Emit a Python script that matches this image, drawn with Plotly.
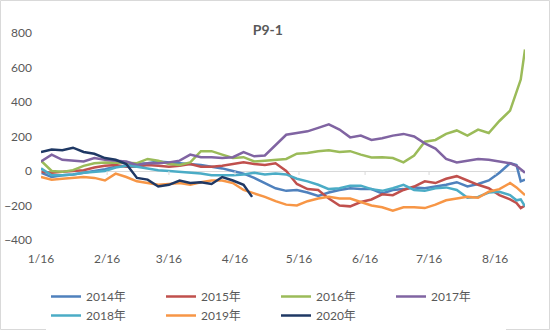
import pandas as pd
import plotly.graph_objects as go

# Day offsets from 16 Jan (shared sampling grid)
days = list(range(0, 221, 5)) + [223, 225, 227]
days_2020 = list(range(0, 96, 5)) + [99]

s2014 = [-10, -35, -25, -20, -10, 0, 10, 25, 30, 40, 45, 55, 50, 45, 40, 35, 25, 15, 0, -15,
         -40, -70, -100, -115, -110, -125, -145, -125, -110, -100, -105, -105, -130, -110, -105,
         -95, -100, -90, -80, -65, -90, -75, -55, -10, 45, 35, -60, -50]
s2015 = [-5, -10, -5, 0, 5, 20, 30, 35, 25, 25, 35, 30, 25, 30, 40, 25, 25, 30, 40, 50,
         40, 35, 45, 0, -75, -105, -110, -160, -200, -205, -180, -165, -135, -140, -110,
         -90, -60, -70, -45, -30, -55, -80, -100, -140, -165, -185, -215, -200]
s2016 = [60, 0, -5, 5, 30, 45, 50, 50, 48, 45, 70, 60, 40, 35, 50, 115, 115, 95, 75, 80,
         55, 60, 65, 70, 100, 105, 115, 120, 110, 115, 95, 78, 80, 75, 50,
         90, 170, 180, 215, 235, 205, 240, 220, 290, 350, 460, 530, 705]
s2017 = [55, 95, 65, 60, 55, 75, 65, 60, 55, 35, 45, 45, 50, 60, 95, 80, 80, 75, 80, 110,
         85, 90, 150, 210, 220, 230, 250, 270, 240, 195, 205, 180, 190, 205, 215,
         200, 160, 130, 70, 50, 60, 70, 65, 55, 45, 30, 10, -10]
s2018 = [15, -25, -25, -20, -10, -5, 0, 20, 30, 25, 15, 5, 0, -5, -10, -15, -25, -25, -25, -20,
         -10, -20, -15, -20, -45, -60, -80, -105, -100, -85, -85, -105, -115, -100, -80,
         -110, -115, -100, -95, -110, -155, -150, -125, -120, -140, -170, -165, -205]
s2019 = [-35, -50, -45, -40, -35, -40, -55, -15, -35, -60, -70, -80, -75, -70, -80, -65, -55, -55, -70, -110,
         -130, -150, -175, -195, -200, -175, -160, -150, -160, -160, -180, -200, -210, -230, -210,
         -210, -215, -195, -170, -160, -150, -155, -120, -105, -70, -95, -120, -140]
s2020 = [110, 125, 120, 135, 110, 100, 75, 65, 40, -40, -50, -90, -80, -55, -70, -65, -75, -35, -55, -80, -150]

names = ["2014年", "2015年", "2016年", "2017年", "2018年", "2019年", "2020年"]
colors = ["#4F81BD", "#C0504D", "#9BBB59", "#8064A2", "#4BACC6", "#F79646", "#1F3864"]

tick_dates = ["2020-01-16", "2020-02-16", "2020-03-16", "2020-04-16",
              "2020-05-16", "2020-06-16", "2020-07-16", "2020-08-16"]
tick_text = ["1/16", "2/16", "3/16", "4/16", "5/16", "6/16", "7/16", "8/16"]
y_ticks = [-400, -200, 0, 200, 400, 600, 800]

base = pd.Timestamp("2020-01-16")


def to_dates(offsets):
    return [base + pd.Timedelta(days=d) for d in offsets]


series = [s2014, s2015, s2016, s2017, s2018, s2019, s2020]
fig = go.Figure()
for name, color, vals in zip(names, colors, series):
    x = to_dates(days_2020 if vals is s2020 else days)
    fig.add_trace(go.Scatter(x=x, y=vals, mode="lines", name=name,
                             line=dict(color=color, width=2.5)))

W, H = 550, 330
ML, MR, MT, MB = 41, 25, 33, 90
pw, ph = W - ML - MR, H - MT - MB

font_family = "Lato, Noto Sans CJK SC, sans-serif"
fig.update_layout(
    width=W, height=H,
    margin=dict(l=ML, r=MR, t=MT, b=MB, autoexpand=False),
    paper_bgcolor="white", plot_bgcolor="white",
    font=dict(family=font_family, size=12, color="#595959"),
    title=dict(text="<b>P9-1</b>", x=0.487, xanchor="center",
               y=1 - 30 / H, yanchor="middle", yref="container",
               font=dict(size=14, color="#595959")),
    xaxis=dict(range=[base, base + pd.Timedelta(days=227)],
               tickvals=tick_dates, ticktext=tick_text,
               showgrid=False, zeroline=False, showline=False,
               ticks="", ticklabelstandoff=10,
               tickfont=dict(size=12, color="#595959")),
    yaxis=dict(range=[-400, 800], tickvals=y_ticks,
               showgrid=False, zeroline=True, zerolinecolor="#D9D9D9",
               zerolinewidth=1, showline=False, ticks="",
               ticklabelstandoff=8,
               tickfont=dict(size=12, color="#595959")),
    legend=dict(orientation="h", x=5 / pw, xanchor="left", y=(240 - 282) / ph, yanchor="top",
                entrywidth=70, entrywidthmode="pixels", tracegroupgap=0,
                font=dict(size=12, color="#595959"), itemwidth=30),
    showlegend=True,
)

# small tick marks along the zero line
for d in tick_dates:
    fig.add_shape(type="line", xref="x", yref="y", x0=d, x1=d,
                  ysizemode="pixel", yanchor=0, y0=0, y1=-4,
                  line=dict(color="#D9D9D9", width=1))

# chart border
fig.add_shape(type="rect", xref="paper", yref="paper",
              x0=(-ML + 0.5) / pw, x1=(pw + MR - 0.5) / pw,
              y0=(-MB + 0.5) / ph, y1=(ph + MT - 0.5) / ph,
              line=dict(color="#D9D9D9", width=1), layer="below")

fig.write_html("out.html")
